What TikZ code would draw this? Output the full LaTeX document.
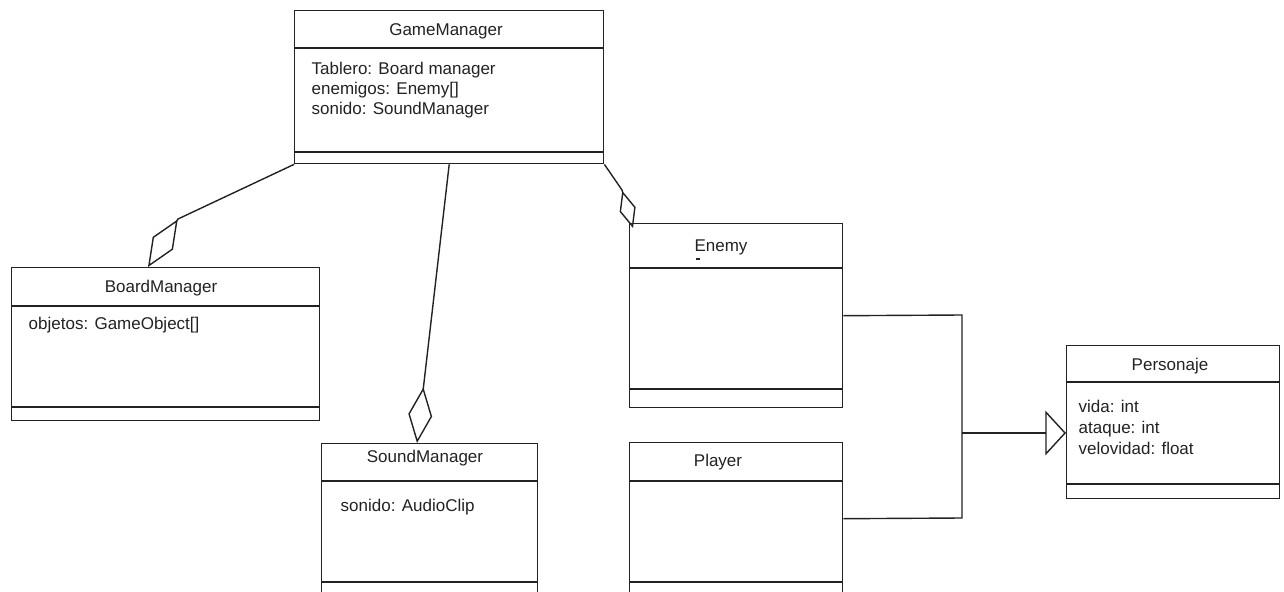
\documentclass[tikz,border=0pt]{standalone}
\usepackage{fontspec}
\setmainfont{Liberation Sans}
\usetikzlibrary{arrows.meta}
\definecolor{ink}{HTML}{222222}
\begin{document}
\begin{tikzpicture}[x=0.75pt,y=-0.75pt,
  color=ink, line width=1.05pt,
  classbox/.style={draw, rectangle, inner sep=0pt, anchor=north west},
  ctitle/.style={font=\fontsize{12.75}{15}\selectfont, inner sep=0pt},
  attrs/.style={font=\fontsize{12.75}{15}\selectfont, inner sep=0pt, align=left, anchor=west},
  aggbig/.style={-{Diamond[open,length=42pt,width=18pt]}},
  aggsmall/.style={-{Diamond[open,length=29pt,width=12.5pt]}},
  inherit/.style={-{Triangle[open,length=15.5pt,width=33.5pt]}}
]
\useasboundingbox (0,0) rectangle (1284,592);
\clip (0,0) rectangle (1284,592);

% ---- class boxes ----
\node[classbox, minimum width=231.75pt, minimum height=114.75pt] (gm) at (294,10) {};
\node[classbox, minimum width=231pt, minimum height=114.75pt] (bm) at (11,267) {};
\node[classbox, minimum width=162pt, minimum height=114pt] (sm) at (321,443) {};
\node[classbox, minimum width=159.75pt, minimum height=138pt] (en) at (629,223) {};
\node[classbox, minimum width=159.75pt, minimum height=114pt] (pl) at (629,442) {};
\node[classbox, minimum width=159.75pt, minimum height=114.75pt] (pe) at (1066,345) {};

% ---- compartment separators ----
\draw (gm.west |- 0,48) -- (gm.east |- 0,48);
\draw (gm.west |- 0,152) -- (gm.east |- 0,152);
\draw (bm.west |- 0,306) -- (bm.east |- 0,306);
\draw (bm.west |- 0,407) -- (bm.east |- 0,407);
\draw (sm.west |- 0,481) -- (sm.east |- 0,481);
\draw (sm.west |- 0,582) -- (sm.east |- 0,582);
\draw (en.west |- 0,268) -- (en.east |- 0,268);
\draw (en.west |- 0,389) -- (en.east |- 0,389);
\draw (pl.west |- 0,481) -- (pl.east |- 0,481);
\draw (pl.west |- 0,582) -- (pl.east |- 0,582);
\draw (pe.west |- 0,382) -- (pe.east |- 0,382);
\draw (pe.west |- 0,484) -- (pe.east |- 0,484);

% ---- titles ----
\node[ctitle] (gmt) at (446,31) {GameManager};
\node[ctitle] (bmt) at (161,288) {BoardManager};
\node[ctitle] (smt) at (425,458) {SoundManager};
\node[ctitle] (ent) at (721,247) {Enemy};
\node[ctitle] (plt) at (718,462) {Player};
\node[ctitle] (pet) at (1170,366) {Personaje};
\draw[line width=1.2pt] (695.5,259) -- (700,259);

% ---- attributes ----
\node[attrs] (gma) at (311,90) {Tablero: Board manager\\enemigos: Enemy[]\\sonido: SoundManager};
\node[attrs] (bma) at (28,325) {objetos: GameObject[]};
\node[attrs] (sma) at (340,507) {sonido: AudioClip};
\node[attrs, font=\fontsize{12.75}{15.75}\selectfont] (pea) at (1078,427) {vida: int\\ataque: int\\velovidad: float};

% ---- aggregations ----
\coordinate (bmbend) at (178,219);
\coordinate (bmtip) at (148,267);
\draw[aggbig] (gm.south west) -- (bmbend) -- (bmtip);

\coordinate (smtip) at (417,443);
\draw[aggbig] (gm.south) -- (smtip);

\coordinate (enbend) at (622,190);
\coordinate (entip) at (633,228);
\draw[aggsmall] (gm.south east) -- (enbend) -- (entip);

% ---- generalization ----
\coordinate (jtop) at (962,315);
\coordinate (jbot) at (962,518);
\coordinate (jmid) at (962,433);
\draw (en.east) -- (jtop) -- (jbot) -- (pl.east);
\draw[inherit] (jmid) -- (pe.west |- jmid);
\end{tikzpicture}
\end{document}
